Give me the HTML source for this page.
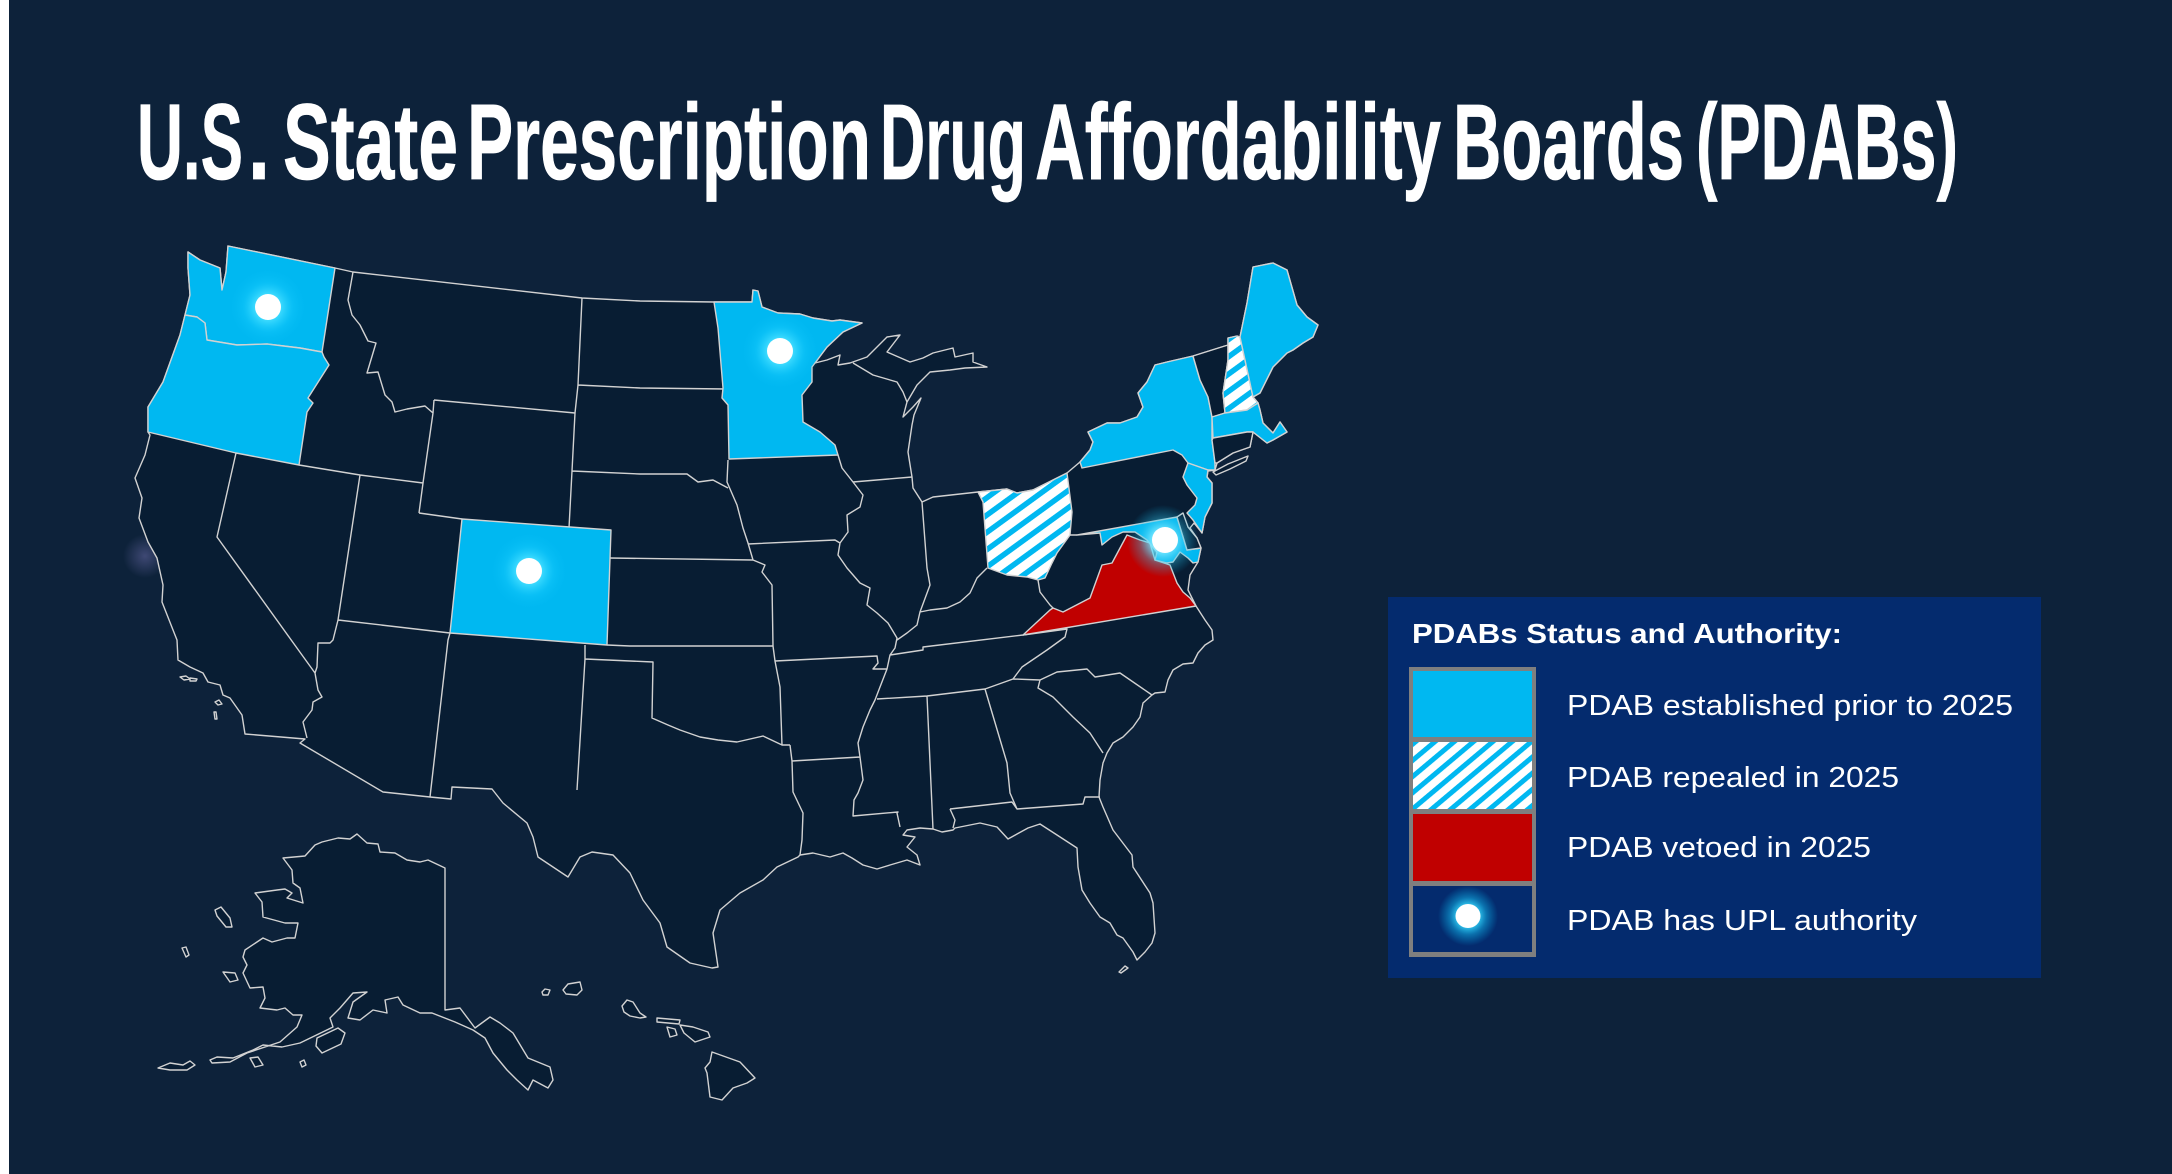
<!DOCTYPE html>
<html><head><meta charset="utf-8">
<style>
html,body{margin:0;padding:0;background:#0D223A;}
svg{display:block}
</style></head>
<body>
<svg width="2172" height="1174" viewBox="0 0 2172 1174" xmlns="http://www.w3.org/2000/svg">
<defs>
  <pattern id="hatchL" patternUnits="userSpaceOnUse" width="12.4" height="12.4" patternTransform="rotate(50)">
    <rect width="12.4" height="12.4" fill="#ffffff"/>
    <rect width="5" height="12.4" fill="#00B8F1"/>
  </pattern>
  <pattern id="hatchM" patternUnits="userSpaceOnUse" width="14" height="14" patternTransform="rotate(54)">
    <rect width="14" height="14" fill="#ffffff"/>
    <rect width="5.5" height="14" fill="#00B8F1"/>
  </pattern>
  <radialGradient id="glow">
    <stop offset="0" stop-color="#c8f6ff"/>
    <stop offset="0.32" stop-color="#40dcff" stop-opacity="0.95"/>
    <stop offset="0.62" stop-color="#14c8fb" stop-opacity="0.45"/>
    <stop offset="1" stop-color="#00b8f1" stop-opacity="0"/>
  </radialGradient>
  <radialGradient id="glowMD">
    <stop offset="0" stop-color="#e8fbff"/>
    <stop offset="0.35" stop-color="#6fe4ff" stop-opacity="0.85"/>
    <stop offset="0.65" stop-color="#30c8f0" stop-opacity="0.35"/>
    <stop offset="1" stop-color="#00b8f1" stop-opacity="0"/>
  </radialGradient>
  <radialGradient id="pglow">
    <stop offset="0" stop-color="#9a90e0" stop-opacity="0.35"/>
    <stop offset="1" stop-color="#9a90e0" stop-opacity="0"/>
  </radialGradient>
</defs>

<rect width="2172" height="1174" fill="#0D223A"/>
<rect x="0" y="0" width="9" height="1174" fill="#ffffff"/>

<!-- Title -->
<g font-family="'Liberation Sans', Arial, sans-serif" font-weight="bold" font-size="108" fill="#ffffff" stroke="#ffffff" stroke-width="0.8">
  <text x="137" y="179" textLength="106" lengthAdjust="spacingAndGlyphs">U.S</text>
  <text x="248" y="179" textLength="22" lengthAdjust="spacingAndGlyphs">.</text>
  <text x="283" y="179" textLength="175" lengthAdjust="spacingAndGlyphs">State</text>
  <text x="467" y="179" textLength="404" lengthAdjust="spacingAndGlyphs">Prescription</text>
  <text x="880" y="179" textLength="146" lengthAdjust="spacingAndGlyphs">Drug</text>
  <text x="1035" y="179" textLength="406" lengthAdjust="spacingAndGlyphs">Affordability</text>
  <text x="1453" y="179" textLength="231" lengthAdjust="spacingAndGlyphs">Boards</text>
  <text x="1696" y="179" textLength="262" lengthAdjust="spacingAndGlyphs">(PDABs)</text>
</g>

<!-- Map -->
<circle cx="145" cy="556" r="22" fill="url(#pglow)"/>
<g stroke="#d2d2d2" stroke-width="1.4" stroke-linejoin="round">
  <!-- CONUS land -->
  <polygon fill="#081D33" points="188,252 200,260 220,268 222,290 226,272 228,246 335,268 353,272 582,298 640,301 714,302 752,302 753,290 758,291 762,307 778,313 800,314 813,318 832,321 840,320 862,323 843,332 827,347 815,363 827,360 840,355 838,365 850,363 867,357 887,337 900,335 887,352 910,362 923,358 933,353 953,348 955,357 973,353 973,362 987,367 965,368 950,370 930,372 917,385 907,402 903,417 913,407 921,398 914,415 912,425 908,452 912,477 913,488 922,502 933,497 978,492 1007,489 1017,493 1033,490 1067,473 1080,462 1090,450 1093,442 1088,432 1107,423 1120,423 1137,417 1143,407 1138,393 1147,382 1155,365 1167,362 1193,356 1228,345 1228,338 1237,336 1240,337 1247,303 1253,267 1273,263 1287,270 1297,305 1307,317 1318,325 1313,337 1303,343 1293,350 1287,353 1273,367 1260,393 1253,397 1258,403 1260,410 1263,423 1273,433 1280,422 1287,432 1273,440 1267,443 1253,432 1250,447 1233,453 1217,463 1215,470 1208,471 1207,477 1212,483 1212,503 1205,517 1202,533 1194,523 1190,528 1197,538 1201,548 1198,562 1190,575 1188,590 1196,606 1205,620 1212,630 1213,640 1205,645 1198,653 1193,663 1183,664 1173,670 1168,680 1165,692 1155,693 1152,695 1143,703 1140,717 1133,727 1123,737 1113,743 1107,753 1103,763 1100,780 1099,797 1103,807 1113,830 1132,855 1133,867 1150,893 1153,903 1155,933 1152,943 1145,952 1137,960 1133,952 1123,938 1117,935 1110,923 1100,917 1090,903 1082,890 1078,867 1077,848 1057,835 1040,824 1028,828 1008,839 997,827 980,823 955,828 953,830 942,832 933,829 920,828 907,830 903,835 915,837 907,847 917,855 920,865 907,860 890,865 877,869 863,865 852,858 843,853 830,857 813,853 800,855 798,857 777,867 763,880 740,893 720,910 713,933 718,967 712,968 690,963 667,947 660,923 643,900 630,873 613,855 592,852 580,857 568,877 553,867 538,857 533,837 527,823 503,803 492,789 452,787 451,799 430,797 383,792 300,743 305,739 245,734 242,715 230,698 223,695 220,685 208,682 203,673 190,667 178,660 177,640 175,635 162,602 163,585 157,558 148,542 139,518 142,498 135,478 145,455 150,435 148,432 148,407 163,382 180,335 185,315 190,295 188,268"/>
  <!-- interior borders -->
  <path fill="none" d="M236,453 L217,537 L302,655 L315,673
  M299,465 L360,475 L423,483
  M353,272 L348,300 L352,315 L360,325 L368,341 L376,343 L367,373 L378,372 L385,395 L392,402 L395,412 L407,409 L425,406 L433,413 L423,483 L419,513
  M434,400 L433,413 M434,400 L575,413
  M582,298 L578,385 L575,413 L572,471 L569,528
  M419,513 L462,519
  M360,475 L338,620 L333,640 L330,643 L318,643 L317,667 L315,673 L318,690 L322,697 L313,702 L312,710 L303,722 L305,730 L307,738
  M338,620 L450,633
  M450,633 L448,640 L430,797
  M585,645 L585,659 L577,790
  M585,659 L653,662 L652,718 L668,725 L680,730 L700,737 L718,740 L737,742 L763,736 L782,745 L790,745
  M607,645 L630,646 L773,646
  M578,385 L640,388 L727,389
  M572,471 L640,474 L687,474 L698,482 L713,480 L728,488
  M609,558 L753,560
  M728,460 L727,482 L737,505 L743,528 L748,543 L753,560 L765,565 L762,572 L772,585 L773,646 L775,661 L780,687 L782,745
  M748,544 L835,540 L840,543
  M838,455 L842,468 L853,482 L863,495 L860,507 L847,515 L848,532 L840,543 L838,555 L847,568 L860,583 L870,588 L867,605 L877,613 L888,623 L897,638 L895,648 L890,655 L887,669 L880,687 L875,700 L870,710 L863,727 L858,743 L860,757 L863,780 L858,793 L854,800 L853,816 L898,812 L897,813 L900,827
  M853,482 L912,477
  M853,363 L873,375 L897,382 L903,392 L907,402
  M922,502 L927,568 L930,585 L920,612 L917,625 L907,633 L897,640
  M920,612 L930,610 L947,608 L960,602 L970,593 L977,578 L987,568
  M1038,580 L1040,592 L1050,605 L1053,608
  M775,661 L877,656 L878,663 L873,669 L887,669
  M790,745 L792,761 L860,757
  M792,761 L793,792 L803,813 L802,840 L800,855
  M890,655 L923,650 L923,647 L1023,635
  M1023,635 L1067,629 L1065,637 L1047,650 L1022,667 L1013,679
  M877,699 L927,696 L985,689 L1013,679 L1040,680
  M927,696 L933,829
  M985,689 L1007,763 L1010,793 L1017,809
  M950,809 L1012,802 L1017,809 L1083,804 L1085,797 L1100,797
  M950,809 L955,820 L953,828
  M1040,680 L1038,688 L1053,697 L1073,717 L1090,733 L1103,753
  M1040,680 L1057,672 L1087,669 L1095,677 L1120,673 L1152,695
  M1070,535 L1077,535"/>

  <!-- colored / special states -->
  <polygon fill="#00B8F1" points="188,252 200,260 220,268 222,290 226,272 228,246 335,268 322,352 300,348 267,344 237,345 207,340 205,323 197,317 185,315 190,295 188,268"/>
  <polygon fill="#00B8F1" points="185,315 197,317 205,323 207,340 237,345 267,344 300,348 322,352 324,357 329,365 308,398 313,403 307,412 299,465 236,453 148,432 148,407 163,382 180,335"/>
  <polygon fill="#00B8F1" points="462,519 611,530 607,645 450,633"/>
  <polygon fill="#00B8F1" points="714,302 752,302 753,290 758,291 762,307 778,313 800,314 813,318 832,321 840,320 862,323 843,332 827,347 815,363 812,367 812,382 802,395 803,422 820,432 835,445 838,455 729,459 728,405 722,398 723,388 718,328"/>
  <polygon fill="url(#hatchM)" points="978,492 1007,489 1017,493 1033,490 1067,473 1072,512 1070,535 1057,553 1052,563 1045,578 1038,580 1027,577 1007,575 988,568 983,502"/>
  <polygon fill="#C00000" points="1023,635 1050,610 1053,608 1063,612 1090,598 1102,565 1112,563 1127,535 1140,540 1150,543 1155,560 1170,565 1177,583 1183,592 1190,598 1196,606"/>
  <polygon fill="#00B8F1" points="1080,462 1090,450 1093,442 1088,432 1107,423 1120,423 1137,417 1143,407 1138,393 1147,382 1155,365 1167,362 1193,356 1200,380 1208,397 1212,417 1212,440 1215,463 1215,470 1208,470 1188,463 1182,455 1173,450 1082,468"/>
  <polygon fill="#081D33" points="1213,472 1228,464 1248,456 1246,461 1230,469 1216,475"/>
  <polygon fill="#081D33" points="1193,356 1228,345 1228,360 1223,393 1225,413 1212,417 1208,397 1200,380"/>
  <polygon fill="url(#hatchM)" points="1228,338 1237,336 1240,337 1253,397 1258,403 1247,410 1225,413 1223,393 1228,360"/>
  <polygon fill="#00B8F1" points="1240,337 1247,303 1253,267 1273,263 1287,270 1297,305 1307,317 1318,325 1313,337 1303,343 1293,350 1287,353 1273,367 1260,393 1253,397"/>
  <polygon fill="#00B8F1" points="1212,417 1225,413 1247,410 1258,403 1260,410 1263,423 1273,433 1280,422 1287,432 1273,440 1267,443 1253,432 1247,432 1213,438"/>
  <polygon fill="#081D33" points="1213,438 1247,432 1253,432 1250,447 1233,453 1217,463 1215,463 1212,440"/>
  <polygon fill="#00B8F1" points="1188,463 1208,470 1207,477 1212,483 1212,503 1205,517 1202,533 1193,520 1187,513 1195,505 1197,498 1187,485 1183,477"/>
  <polygon fill="#00B8F1" points="1077,535 1177,517 1187,550 1201,548 1198,562 1193,563 1188,558 1180,552 1173,562 1167,563 1155,560 1157,552 1147,540 1135,532 1123,532 1112,537 1102,545 1100,533"/>
  <polygon fill="#081D33" points="1177,517 1183,513 1188,527 1197,538 1201,548 1187,550"/>

  <!-- Alaska -->
  <polygon fill="#081D33" points="283,858 305,856 315,845 322,842 338,838 350,839 357,834 367,843 378,844 380,852 395,853 407,860 420,862 428,860 445,868 445,1010 460,1008 475,1028 490,1017 500,1023 513,1033 528,1058 550,1067 553,1080 548,1088 533,1080 528,1090 517,1080 507,1070 493,1053 485,1038 473,1030 455,1022 432,1013 420,1013 403,1005 398,997 385,1000 387,1013 373,1010 360,1020 348,1018 353,1002 367,992 353,993 340,1008 330,1018 333,1027 300,1043 282,1047 263,1045 253,1050 233,1058 217,1057 210,1060 212,1063 230,1062 247,1053 280,1042 297,1027 302,1015 293,1015 285,1008 277,1010 260,1008 265,998 263,987 250,988 243,973 247,965 243,957 245,950 263,938 272,942 287,938 295,938 298,923 285,923 263,917 262,902 255,893 277,890 285,889 292,893 287,898 303,903 300,888 293,883 292,870"/>
  <polygon fill="#081D33" points="158,1068 170,1063 183,1065 190,1061 195,1065 187,1070 170,1070"/>
  <polygon fill="#081D33" points="250,1058 258,1057 263,1065 255,1067"/>
  <polygon fill="#081D33" points="300,1062 304,1060 306,1065 302,1067"/>
  <polygon fill="#081D33" points="317,1038 338,1028 345,1033 341,1044 322,1053 316,1046"/>
  <polygon fill="#081D33" points="215,910 221,907 230,918 232,927 226,927 217,916"/>
  <polygon fill="#081D33" points="182,948 186,947 189,955 186,957"/>
  <polygon fill="#081D33" points="223,972 235,973 238,980 230,982"/>
  <!-- Hawaii -->
  <polygon fill="#081D33" points="542,992 545,989 550,990 548,995 543,995"/>
  <polygon fill="#081D33" points="563,990 568,984 580,982 582,990 577,995 566,994"/>
  <polygon fill="#081D33" points="622,1006 627,1000 633,1002 640,1013 646,1017 640,1018 630,1016 624,1012"/>
  <polygon fill="#081D33" points="657,1018 680,1020 679,1024 657,1022"/>
  <polygon fill="#081D33" points="667,1027 675,1029 677,1035 670,1037"/>
  <polygon fill="#081D33" points="680,1025 693,1027 708,1032 710,1037 695,1042 684,1033"/>
  <polygon fill="#081D33" points="712,1052 740,1062 755,1078 747,1083 733,1088 722,1100 710,1097 707,1073 705,1068 710,1062"/>
  <!-- CA islands, FL keys -->
  <polygon fill="#081D33" points="180,677 186,676 190,679 184,680"/>
  <polygon fill="#081D33" points="190,678 197,679 196,681 190,681"/>
  <polygon fill="#081D33" points="215,702 219,700 222,704 218,705"/>
  <polygon fill="#081D33" points="214,712 216,712 217,719 215,719"/>
  <polygon fill="#081D33" points="1119,972 1125,966 1128,968 1121,973"/>
</g>

<!-- UPL dots -->
<circle cx="268" cy="307" r="40" fill="url(#glow)"/>
<circle cx="268" cy="307" r="13" fill="#ffffff"/>
<circle cx="780" cy="351" r="40" fill="url(#glow)"/>
<circle cx="780" cy="351" r="13" fill="#ffffff"/>
<circle cx="529" cy="571" r="40" fill="url(#glow)"/>
<circle cx="529" cy="571" r="13" fill="#ffffff"/>
<circle cx="1163" cy="541" r="36" fill="url(#glowMD)"/>
<circle cx="1165" cy="540" r="13" fill="#ffffff"/>

<!-- Legend -->
<rect x="1388" y="597" width="653" height="381" fill="#042B6E"/>
<text x="1412" y="643" font-family="'Liberation Sans', Arial, sans-serif" font-weight="bold" font-size="28" fill="#ffffff" textLength="430" lengthAdjust="spacingAndGlyphs">PDABs Status and Authority:</text>
<rect x="1409" y="667" width="127" height="290" fill="#7F7F7F"/>
<rect x="1413" y="671" width="119" height="66" fill="#00B8F1"/>
<rect x="1413" y="742" width="119" height="67" fill="url(#hatchL)"/>
<rect x="1413" y="814" width="119" height="67" fill="#C00000"/>
<rect x="1413" y="886" width="119" height="66" fill="#042B6E"/>
<circle cx="1468" cy="916" r="30" fill="url(#glow)"/>
<ellipse cx="1468" cy="916" rx="12.5" ry="12" fill="#ffffff"/>
<g font-family="'Liberation Sans', Arial, sans-serif" font-size="29" fill="#ffffff">
  <text x="1567" y="715" textLength="446" lengthAdjust="spacingAndGlyphs">PDAB established prior to 2025</text>
  <text x="1567" y="787" textLength="332" lengthAdjust="spacingAndGlyphs">PDAB repealed in 2025</text>
  <text x="1567" y="857" textLength="304" lengthAdjust="spacingAndGlyphs">PDAB vetoed in 2025</text>
  <text x="1567" y="930" textLength="350" lengthAdjust="spacingAndGlyphs">PDAB has UPL authority</text>
</g>
</svg>
</body></html>
